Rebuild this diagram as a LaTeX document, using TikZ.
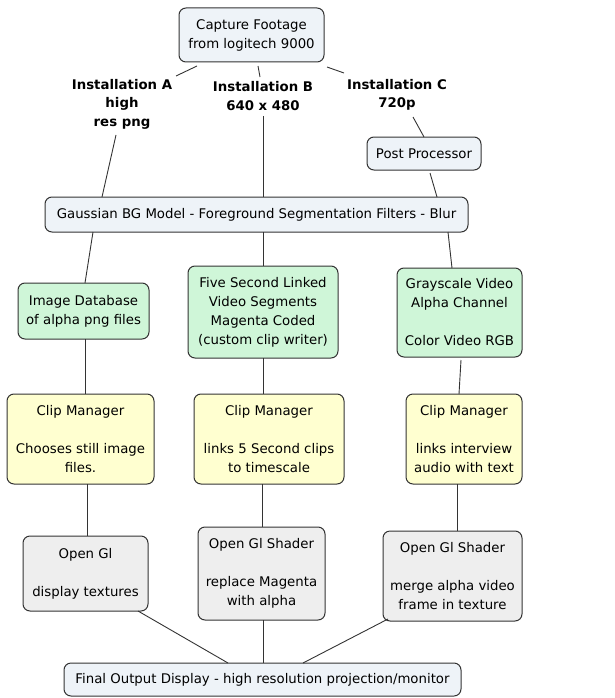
\documentclass[tikz,border=0pt]{standalone}
\usepackage{fontspec}
\setmainfont{DejaVu Sans}
\usetikzlibrary{calc}
\definecolor{bgrey}{HTML}{EEF3F8}
\definecolor{mint}{HTML}{CFF6D8}
\definecolor{lyellow}{HTML}{FFFFD0}
\definecolor{lgrey}{HTML}{EEEEEE}
\definecolor{edge}{HTML}{333333}
\tikzset{
  box/.style={draw=edge, line width=1pt, rounded corners=7pt, align=center, inner sep=0pt,
     font=\fontsize{13.3}{19}\selectfont},
  bluebox/.style={box, fill=bgrey},
  greenbox/.style={box, fill=mint},
  yellowbox/.style={box, fill=lyellow},
  greybox/.style={box, fill=lgrey},
  lbl/.style={align=center, inner sep=0pt, font=\fontsize{13.3}{18.5}\bfseries\selectfont},
  conn/.style={draw=edge, line width=0.9pt}
}
\begin{document}
\begin{tikzpicture}[x=1pt,y=-1pt]
\useasboundingbox (0,0) rectangle (615,698);
% boxes
\node[bluebox, minimum width=145, minimum height=54] (cap) at (251.5,35) {Capture Footage\\from logitech 9000};
\node[bluebox, minimum width=114, minimum height=33] (pp) at (424,153.5) {Post Processor};
\node[bluebox, minimum width=423, minimum height=35] (gauss) at (256.5,214.5) {Gaussian BG Model - Foreground Segmentation Filters - Blur};
\node[greenbox, minimum width=131, minimum height=56] (ida) at (83.5,311) {Image Database\\of alpha png files};
\node[greenbox, minimum width=150, minimum height=92] (fsl) at (263,312) {Five Second Linked\\Video Segments\\Magenta Coded\\(custom clip writer)};
\node[greenbox, minimum width=125, minimum height=89] (gsv) at (459.5,312.5) {Grayscale Video\\Alpha Channel\\[19pt]Color Video RGB};
\node[yellowbox, minimum width=147, minimum height=90] (cma) at (80.5,439) {Clip Manager\\[19pt]Chooses still image\\files.};
\node[yellowbox, minimum width=150, minimum height=90] (cmb) at (269,439) {Clip Manager\\[19pt]links 5 Second clips\\to timescale};
\node[yellowbox, minimum width=116, minimum height=90] (cmc) at (464,439) {Clip Manager\\[19pt]links interview\\audio with text};
\node[greybox, minimum width=125, minimum height=75] (oga) at (85.5,573.5) {Open Gl\\[19pt]display textures};
\node[greybox, minimum width=127, minimum height=93] (ogb) at (261.5,573.5) {Open Gl Shader\\[19pt]replace Magenta\\with alpha};
\node[greybox, minimum width=139, minimum height=90] (ogc) at (452.5,576) {Open Gl Shader\\[19pt]merge alpha video\\frame in texture};
\node[bluebox, minimum width=397, minimum height=33] (fin) at (262.5,679.5) {Final Output Display - high resolution projection/monitor};
% labels
\node[lbl] (ia) at (122,104) {Installation A\\high\\res png};
\node[lbl] (ib) at (263,96) {Installation B\\640 x 480};
\node[lbl] (ic) at (397,95) {Installation C\\720p};
% connectors
\draw[conn] ($(cap)+(-54.5,31)$) -- ($(ia)+(54,-28)$);
\draw[conn] ($(cap)+(6.5,31)$) -- ($(ib)+(-3,-19)$);
\draw[conn] ($(cap)+(75.5,32)$) -- ($(ic)+(-53,-22)$);
\draw[conn] ($(ia)+(-6,31)$) -- ($(gauss)+(-154.5,-17.5)$);
\draw[conn] ($(ib)+(0,20)$) -- ($(gauss)+(6.5,-17.5)$);
\draw[conn] ($(ic)+(16,22)$) -- ($(pp)+(0,-16.5)$);
\draw[conn] ($(pp)+(6,19.5)$) -- ($(gauss)+(180.5,-17.5)$);
\draw[conn] ($(gauss)+(-163.5,17.5)$) -- ($(ida)+(1.5,-28)$);
\draw[conn] ($(gauss)+(6.5,17.5)$) -- ($(fsl)+(0,-46)$);
\draw[conn] ($(gauss)+(191.5,17.5)$) -- ($(gsv)+(-7.5,-44.5)$);
\draw[conn] ($(ida)+(1.5,28)$) -- ($(cma)+(4.5,-45)$);
\draw[conn] ($(fsl)+(0,46)$) -- ($(cmb)+(-6,-45)$);
\draw[conn] ($(gsv)+(1.5,47.5)$) -- ($(cmc)+(-5,-45)$);
\draw[conn] ($(cma)+(6.5,45)$) -- ($(oga)+(1.5,-37.5)$);
\draw[conn] ($(cmb)+(-7,45)$) -- ($(ogb)+(0.5,-46.5)$);
\draw[conn] ($(cmc)+(-7,45)$) -- ($(ogc)+(4.5,-45)$);
\draw[conn] ($(oga)+(52.5,37.5)$) -- ($(fin)+(-34.5,-16.5)$);
\draw[conn] ($(ogb)+(1.5,46.5)$) -- ($(fin)+(0.5,-16.5)$);
\draw[conn] ($(ogc)+(-64.5,43)$) -- ($(fin)+(40.5,-16.5)$);
\end{tikzpicture}
\end{document}
